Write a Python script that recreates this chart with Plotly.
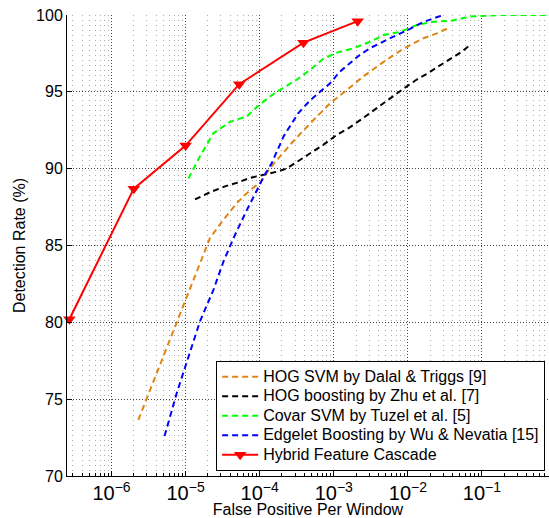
import plotly.graph_objects as go

# False positives per window (FPPW) vs. detection rate (%) for each detector
hog_svm_fppw = [2.3e-6, 3.2e-6, 8.85e-6, 1.56e-5, 2.14e-5, 3.1e-5, 4.9e-5, 7.4e-5,
                1.02e-4, 1.41e-4, 2.8e-4, 4.8e-4, 8.9e-4, 1.48e-3, 2.5e-3, 4.7e-3,
                8.7e-3, 1.55e-2, 2.45e-2, 3.7e-2]
hog_svm_dr = [73.65, 75.4, 80.7, 83.7, 85.5, 86.55, 87.75, 88.6,
              89.1, 90.1, 91.75, 92.95, 94.25, 95.1, 96.0, 96.95,
              97.8, 98.45, 98.8, 99.2]

hog_boost_fppw = [1.34e-5, 2.1e-5, 3.4e-5, 5.1e-5, 7.4e-5, 1.12e-4, 1.7e-4, 2.3e-4,
                  3.5e-4, 5.0e-4, 7.2e-4, 1.1e-3, 1.66e-3, 2.5e-3, 3.8e-3, 5.75e-3,
                  8.7e-3, 1.32e-2, 1.78e-2, 2.57e-2, 3.7e-2, 5.3e-2, 6.9e-2]
hog_boost_dr = [88.0, 88.45, 88.85, 89.1, 89.4, 89.6, 89.8, 90.0,
                90.55, 91.05, 91.55, 92.2, 92.7, 93.3, 93.95, 94.6,
                95.2, 95.8, 96.15, 96.65, 97.1, 97.6, 98.05]

covar_fppw = [1.09e-5, 1.56e-5, 2.37e-5, 4.0e-5, 6.7e-5, 9.1e-5, 1.38e-4, 1.7e-4,
              3.3e-4, 5.0e-4, 7.2e-4, 1.1e-3, 1.83e-3, 3.1e-3, 4.7e-3, 7.9e-3,
              1.32e-2, 2.2e-2, 3.9e-2, 6.9e-2, 1.9e-1, 1.0]
covar_dr = [89.35, 90.8, 92.3, 93.05, 93.4, 94.0, 94.7, 95.0,
            95.85, 96.5, 97.15, 97.55, 97.83, 98.26, 98.7, 98.9,
            99.35, 99.56, 99.63, 99.9, 100.0, 100.0]

edgelet_fppw = [5.2e-6, 7.6e-6, 1.56e-5, 2.37e-5, 3.24e-5, 4.65e-5, 6.7e-5, 8.7e-5,
                1.17e-4, 1.45e-4, 2.1e-4, 3.3e-4, 4.8e-4, 6.5e-4, 8.9e-4, 1.2e-3,
                1.66e-3, 2.24e-3, 3.1e-3, 4.7e-3, 7.1e-3, 1.07e-2, 1.62e-2, 3.0e-2]
edgelet_dr = [72.6, 75.4, 80.05, 82.1, 83.95, 85.7, 87.3, 88.4,
              89.6, 90.35, 92.1, 93.6, 94.45, 95.0, 95.55, 96.3,
              96.85, 97.4, 97.85, 98.25, 98.7, 99.1, 99.55, 100.0]

hybrid_fppw = [2.7e-7, 2.0e-6, 1.0e-5, 5.3e-5, 3.9e-4, 2.1e-3]
hybrid_dr = [80.2, 88.7, 91.5, 95.5, 98.2, 99.6]

series_names = [
    "HOG SVM by Dalal & Triggs [9]",
    "HOG boosting by Zhu et al. [7]",
    "Covar SVM by Tuzel et al. [5]",
    "Edgelet Boosting by Wu & Nevatia [15]",
    "Hybrid Feature Cascade",
]
y_ticks = [70, 75, 80, 85, 90, 95, 100]

FONT = "Liberation Sans, Arial, Helvetica, sans-serif"
DASH = "6px,4px"


def legend_label(text):
    # legend rows are spaced by the legend font size; the label itself is drawn larger
    return '<span style="font-size:16px">' + text + "</span>"


fig = go.Figure()

dashed = [
    (hog_svm_fppw, hog_svm_dr, "#DF8512"),
    (hog_boost_fppw, hog_boost_dr, "#000000"),
    (covar_fppw, covar_dr, "#00FF00"),
    (edgelet_fppw, edgelet_dr, "#0000FF"),
]
for (xs, ys, color), name in zip(dashed, series_names[:4]):
    fig.add_trace(go.Scatter(
        x=xs, y=ys, mode="lines", name=legend_label(name),
        line=dict(color=color, width=2, dash=DASH),
    ))

fig.add_trace(go.Scatter(
    x=hybrid_fppw, y=hybrid_dr, mode="lines+markers", name=legend_label(series_names[4]),
    line=dict(color="#FF0000", width=2),
    marker=dict(symbol="triangle-down", size=11, color="#FF0000"),
    cliponaxis=False,
))

fig.update_layout(
    width=549, height=518,
    margin=dict(l=67, r=0, t=15, b=42, autoexpand=False),
    paper_bgcolor="white", plot_bgcolor="white",
    font=dict(family=FONT, size=16, color="black"),
    showlegend=True,
    legend=dict(
        x=0.992, xanchor="right", y=0.011, yanchor="bottom",
        bgcolor="white", bordercolor="black", borderwidth=1,
        font=dict(family=FONT, size=12.7, color="black"),
        tracegroupgap=0, itemwidth=36,
    ),
)

fig.update_xaxes(
    type="log", range=[-6.6005, -0.0955], dtick=1,
    exponentformat="power",
    showline=True, linecolor="black", linewidth=1, mirror=False,
    ticks="inside", ticklen=5, tickcolor="black",
    showgrid=True, gridcolor="#444444", griddash="1px,2px", gridwidth=1,
    minor=dict(dtick="D1", ticks="inside", ticklen=3, tickcolor="black",
               showgrid=True, gridcolor="#aaaaaa", griddash="1px,4px", gridwidth=1),
    zeroline=False,
    title=dict(text="False Positive Per Window", standoff=10,
               font=dict(family=FONT, size=16)),
    tickfont=dict(family=FONT, size=16),
)

fig.update_yaxes(
    range=[70, 100], tickvals=y_ticks,
    showline=True, linecolor="black", linewidth=1, mirror=False,
    ticks="inside", ticklen=5, tickcolor="black",
    showgrid=True, gridcolor="#444444", griddash="1px,2px", gridwidth=1,
    zeroline=False,
    title=dict(text="Detection Rate (%)", standoff=6,
               font=dict(family=FONT, size=16)),
    tickfont=dict(family=FONT, size=16),
)

fig.write_html("out.html")
